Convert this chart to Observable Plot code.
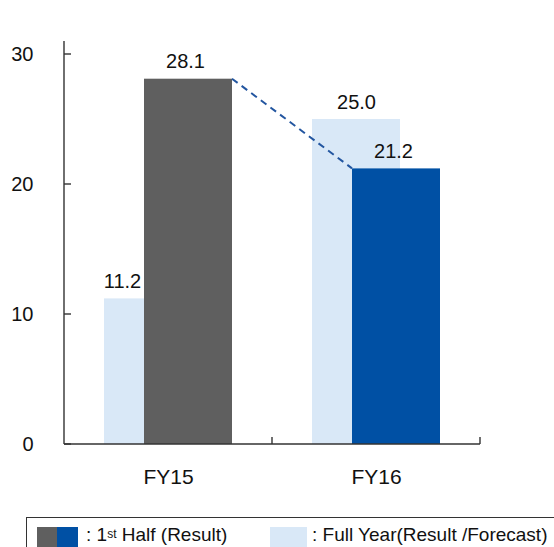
<!DOCTYPE html>
<html><head><meta charset="utf-8">
<script src="https://cdn.jsdelivr.net/npm/d3@7"></script>
<script src="https://cdn.jsdelivr.net/npm/@observablehq/plot@0.6"></script>
<style>
body{margin:0;background:#fff;font-family:"Liberation Sans",Arial,sans-serif;color:#111;}
#legend{position:relative;margin-left:26px;margin-top:7px;height:40px;border-top:1px solid #333;border-left:1px solid #333;}
.item{position:absolute;top:9px;display:flex;align-items:flex-start;font-size:19px;line-height:22px;white-space:nowrap;}
.sw{display:inline-block;height:22px;}
.lt{margin-top:-3px;}
sup{font-size:12px;vertical-align:top;position:relative;top:-1px;}
</style></head><body><div id="chart"></div><div id="legend"></div>
<script>
const categories = ["FY15", "FY16"];
const firstHalf = [28.1, 21.2];
const fullYear = [11.2, 25.0];
const yTicks = [0, 10, 20, 30];
const halfColors = ["#5f5f5f", "#0050a4"];
const fullColor = "#d9e8f7";
const legendHalf = ["1", "st", " Half (Result)"];
const legendFull = "Full Year(Result /Forecast)";

const rows = categories.map((c, i) => ({cat: c, half: firstHalf[i], full: fullYear[i]}));
const near = 40, far = 80; // bar insets within each band
const fmt = v => v.toFixed(1);

function frameAndConnector(index, {x, y}) {
  const bw = x.bandwidth();
  const g = d3.create("svg:g").attr("fill", "none");
  const [yb, yt] = y.range();
  const left = x(categories[0]);
  const right = x(categories[categories.length - 1]) + bw;
  const ax = g.append("g").attr("stroke", "#333").attr("stroke-width", 1.4);
  ax.append("line").attr("x1", left).attr("x2", left).attr("y1", yt).attr("y2", yb);
  ax.append("line").attr("x1", left).attr("x2", right).attr("y1", yb).attr("y2", yb);
  for (const t of yTicks) ax.append("line").attr("x1", left).attr("x2", left + 7).attr("y1", y(t)).attr("y2", y(t));
  for (const c of categories) ax.append("line").attr("x1", x(c) + bw).attr("x2", x(c) + bw).attr("y1", yb - 7).attr("y2", yb);
  for (let i = 0; i < categories.length - 1; i++) {
    g.append("line")
      .attr("x1", x(categories[i]) + bw - near).attr("y1", y(firstHalf[i]))
      .attr("x2", x(categories[i + 1]) + far).attr("y2", y(firstHalf[i + 1]))
      .attr("stroke", "#2356a0").attr("stroke-width", 2).attr("stroke-dasharray", "7,5");
  }
  return g.node();
}

const chart = Plot.plot({
  width: 554, height: 510,
  marginLeft: 64, marginRight: 74, marginTop: 41, marginBottom: 66,
  style: {fontFamily: "'Liberation Sans', Arial, sans-serif", fontSize: "20px", color: "#111", background: "#fff", overflow: "visible"},
  x: {domain: categories, padding: 0, label: null},
  y: {domain: [0, 31], label: null},
  color: {domain: categories, range: halfColors},
  marks: [
    Plot.barY(rows, {x: "cat", y: "full", fill: fullColor, insetLeft: near, insetRight: far}),
    Plot.barY(rows, {x: "cat", y: "half", fill: "cat", insetLeft: far, insetRight: near}),
    Plot.axisX({tickSize: 0, tickPadding: 25, fontSize: 21}),
    Plot.axisY({ticks: yTicks, tickSize: 0, tickPadding: 31, fontSize: 20}),
    Plot.text(rows, {x: "cat", y: "half", text: d => fmt(d.half), dx: 17, dy: -11, lineAnchor: "bottom", fontSize: 20}),
    Plot.text(rows.filter(d => d.full >= d.half), {x: "cat", y: "full", text: d => fmt(d.full), dx: -20, dy: -11, lineAnchor: "bottom", fontSize: 20}),
    Plot.text(rows.filter(d => d.full < d.half), {x: "cat", y: "full", text: d => fmt(d.full), dx: -46, dy: -11, lineAnchor: "bottom", fontSize: 20}),
    frameAndConnector
  ]
});
document.getElementById("chart").appendChild(chart);

// legend
const legend = document.getElementById("legend");
const it1 = document.createElement("div");
it1.className = "item"; it1.style.left = "10px";
halfColors.forEach((c, i) => {
  const s = document.createElement("span"); s.className = "sw";
  s.style.background = c; s.style.width = (i === 0 ? 20 : 21) + "px";
  it1.appendChild(s);
});
const t1 = document.createElement("span"); t1.className = "lt"; t1.style.marginLeft = "8px";
t1.append(":\u00a0" + legendHalf[0]);
const sup = document.createElement("sup"); sup.textContent = legendHalf[1]; t1.appendChild(sup);
t1.append(legendHalf[2]);
it1.appendChild(t1);
legend.appendChild(it1);

const it2 = document.createElement("div");
it2.className = "item"; it2.style.left = "243px";
const s2 = document.createElement("span"); s2.className = "sw"; s2.style.background = fullColor; s2.style.width = "37px";
it2.appendChild(s2);
const t2 = document.createElement("span"); t2.className = "lt"; t2.style.marginLeft = "5px";
t2.textContent = ":\u00a0" + legendFull;
it2.appendChild(t2);
legend.appendChild(it2);
</script></body></html>
